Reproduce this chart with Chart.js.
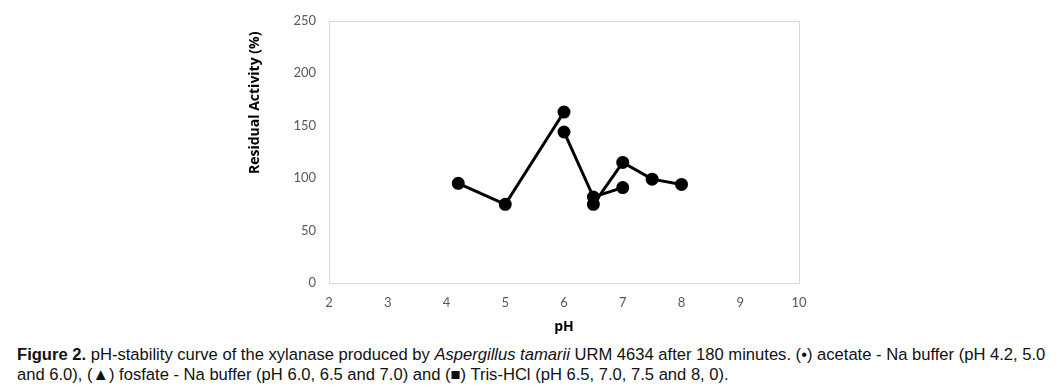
<!DOCTYPE html>
<html>
<head>
<meta charset="utf-8">
<script src="https://cdn.jsdelivr.net/npm/chart.js@4/dist/chart.umd.min.js"></script>
<style>
  html, body { margin: 0; padding: 0; background: #fff; }
  body { width: 1062px; height: 390px; overflow: hidden; position: relative; }
  #wrap { position: absolute; left: 0; top: 0; width: 1062px; height: 335px; }
  #caption { position: absolute; left: 17px; top: 345px; width: 1045px;
    font-family: "Liberation Sans", Arial, sans-serif;
    font-size: 16px; line-height: 20px; color: #111; white-space: nowrap; }
  #caption span { display: inline-block; }
</style>
</head>
<body>
<div id="wrap"><canvas id="c" width="1062" height="335"></canvas></div>
<div id="caption"><span id="l1"><b>Figure 2.</b> pH-stability curve of the xylanase produced by <i>Aspergillus tamarii</i> URM 4634 after 180 minutes. (•) acetate - Na buffer (pH 4.2, 5.0</span><br><span id="l2">and 6.0), (▲) fosfate - Na buffer (pH 6.0, 6.5 and 7.0) and (■) Tris-HCl (pH 6.5, 7.0, 7.5 and 8, 0).</span></div>
<script>
const acetatePH = [4.2, 5.0, 6.0];
const acetateActivity = [95, 75, 163];
const fosfatePH = [6.0, 6.5, 7.0];
const fosfateActivity = [144, 82, 91];
const trisPH = [6.5, 7.0, 7.5, 8.0];
const trisActivity = [75, 115, 99, 94];
const xTicks = [2, 3, 4, 5, 6, 7, 8, 9, 10];
const yTicks = [0, 50, 100, 150, 200, 250];

// fit caption line width to the reference
(function () {
  const cap = document.getElementById('caption');
  const l1 = document.getElementById('l1');
  let fs = 16;
  for (let i = 0; i < 20; i++) {
    const w = l1.getBoundingClientRect().width;
    const nfs = fs * 1028 / w;
    if (Math.abs(nfs - fs) < 0.01) break;
    fs = nfs;
    cap.style.fontSize = fs + 'px';
  }
})();

const toPts = (xs, ys) => xs.map((x, i) => ({ x: x, y: ys[i] }));
const seriesStyle = {
  borderColor: '#000', backgroundColor: '#000', borderWidth: 3,
  pointRadius: 5, pointHoverRadius: 5, pointBackgroundColor: '#000',
  pointBorderColor: '#000', showLine: true, tension: 0
};

const frame = {
  id: 'frame',
  beforeDatasetsDraw(chart) {
    const a = chart.chartArea, ctx = chart.ctx;
    ctx.save();
    ctx.strokeStyle = '#d9d9d9';
    ctx.lineWidth = 1;
    ctx.strokeRect(Math.round(a.left) + 0.5, Math.round(a.top) + 0.5,
      Math.round(a.right - a.left), Math.round(a.bottom - a.top));
    ctx.restore();
  },
  afterDraw(chart) {
    const a = chart.chartArea, ctx = chart.ctx;
    ctx.save();
    ctx.translate(255, a.top + 82);
    ctx.rotate(-Math.PI / 2);
    ctx.font = 'bold 14px "Open Sans"';
    ctx.fillStyle = '#000';
    ctx.textAlign = 'center';
    ctx.textBaseline = 'middle';
    ctx.fillText('Residual Activity (%)', 0, 0);
    ctx.restore();
  }
};

new Chart(document.getElementById('c'), {
  type: 'scatter',
  data: {
    datasets: [
      Object.assign({ label: 'acetate - Na', data: toPts(acetatePH, acetateActivity) }, seriesStyle),
      Object.assign({ label: 'fosfate - Na', data: toPts(fosfatePH, fosfateActivity) }, seriesStyle),
      Object.assign({ label: 'Tris-HCl', data: toPts(trisPH, trisActivity) }, seriesStyle)
    ]
  },
  options: {
    responsive: false,
    animation: false,
    layout: { padding: { left: 240, right: 263, top: 17, bottom: 0 } },
    plugins: { legend: { display: false }, tooltip: { enabled: false } },
    scales: {
      x: {
        type: 'linear', min: 2, max: 10,
        afterBuildTicks: s => { s.ticks = xTicks.map(v => ({ value: v })); },
        afterFit: s => { s.height = 52; },
        grid: { display: false, drawTicks: false },
        border: { display: false },
        ticks: { color: '#595959', padding: 12, font: { family: 'Lato', size: 13 } },
        title: { display: true, text: 'pH', color: '#000', padding: { top: 4, bottom: 0 },
          font: { family: 'Open Sans', size: 14, weight: 'bold' } }
      },
      y: {
        type: 'linear', min: 0, max: 250,
        afterBuildTicks: s => { s.ticks = yTicks.map(v => ({ value: v })); },
        afterFit: s => { s.width = 89; },
        grid: { display: false, drawTicks: false },
        border: { display: false },
        ticks: { color: '#595959', padding: 13, font: { family: 'Lato', size: 13 } },
        title: { display: false }
      }
    }
  },
  plugins: [frame]
});
</script>
</body>
</html>
